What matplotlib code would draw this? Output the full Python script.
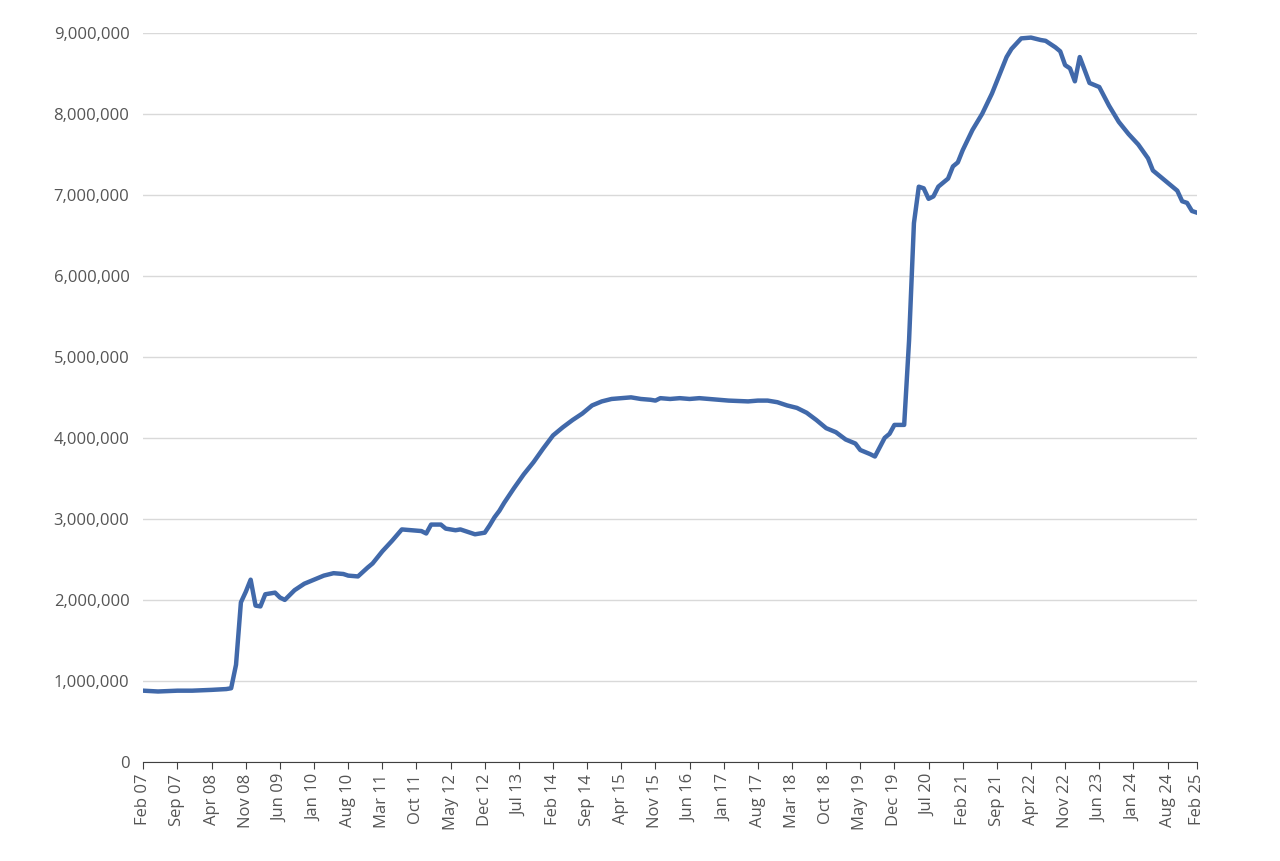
import numpy as np
import pandas as pd
import matplotlib.pyplot as plt
from matplotlib.ticker import FuncFormatter

plt.rcParams["font.family"] = ["Open Sans", "DejaVu Sans"]

# months since Feb 2007, values in millions
months = [0, 3, 7, 10, 14, 17, 18, 19, 20, 21, 22, 23, 24, 25, 27, 28, 29, 31, 33, 35,
          37, 39, 41, 42, 44, 46, 47, 49, 51, 53, 55, 57, 58, 59, 61, 62, 64, 65, 67, 68,
          70, 71, 72, 73, 74, 76, 78, 80, 82, 84, 86, 88, 90, 92, 94, 96, 98, 100, 102, 104,
          105, 106, 108, 110, 112, 114, 116, 118, 120, 124, 126, 128, 130, 132, 134, 136, 138, 140, 142, 144,
          146, 147, 149, 150, 152, 153, 154, 156, 157, 158, 159, 160, 161, 162, 163, 165, 166, 167, 168, 170,
          172, 174, 175, 176, 177, 178, 180, 182, 184, 185, 187, 188, 189, 190, 191, 192, 194, 196, 198, 200,
          202, 204, 206, 207, 209, 211, 212, 213, 214, 215, 216]
values = [0.88, 0.87, 0.88, 0.88, 0.89, 0.90, 0.91, 1.20, 1.97, 2.10, 2.25, 1.93, 1.92, 2.07, 2.09, 2.03, 2.00, 2.12, 2.20, 2.25,
          2.30, 2.33, 2.32, 2.30, 2.29, 2.40, 2.45, 2.60, 2.73, 2.87, 2.86, 2.85, 2.82, 2.93, 2.93, 2.88, 2.86, 2.87, 2.83, 2.81,
          2.83, 2.92, 3.02, 3.10, 3.20, 3.38, 3.55, 3.70, 3.87, 4.03, 4.13, 4.22, 4.30, 4.40, 4.45, 4.48, 4.49, 4.50, 4.48, 4.47,
          4.46, 4.49, 4.48, 4.49, 4.48, 4.49, 4.48, 4.47, 4.46, 4.45, 4.46, 4.46, 4.44, 4.40, 4.37, 4.31, 4.22, 4.12, 4.07, 3.98,
          3.93, 3.85, 3.80, 3.77, 4.00, 4.05, 4.16, 4.16, 5.20, 6.65, 7.10, 7.08, 6.95, 6.98, 7.10, 7.20, 7.35, 7.40, 7.55, 7.80,
          8.00, 8.25, 8.40, 8.55, 8.70, 8.80, 8.93, 8.94, 8.91, 8.90, 8.82, 8.77, 8.60, 8.56, 8.40, 8.70, 8.38, 8.33, 8.10, 7.90,
          7.75, 7.62, 7.45, 7.30, 7.20, 7.10, 7.05, 6.92, 6.90, 6.80, 6.78]

dates = pd.date_range("2007-02-01", periods=217, freq="MS")
tick_idx = list(range(0, 211, 7)) + [216]
tick_labels = [dates[i].strftime("%b %y") for i in tick_idx]

fig, ax = plt.subplots(figsize=(12.8, 8.61), dpi=100)
fig.subplots_adjust(left=0.112, right=0.935, top=0.962, bottom=0.115)

ax.plot(months, np.array(values) * 1e6, color="#4169aa", lw=3.2, solid_joinstyle="round")
ax.set_xlim(0, 216)
ax.set_ylim(0, 9e6)
ax.set_yticks(np.arange(0, 9.01e6, 1e6))
ax.yaxis.set_major_formatter(FuncFormatter(lambda v, p: f"{int(v):,}"))
ax.set_xticks(tick_idx)
ax.set_xticklabels(tick_labels, rotation=90)
ax.grid(axis="y", color="#d9d9d9", lw=1)
ax.set_axisbelow(True)
for s in ["top", "right", "left"]:
    ax.spines[s].set_visible(False)
ax.spines["bottom"].set_color("#404040")
ax.tick_params(axis="y", length=0, labelsize=12, colors="#555555", pad=10)
ax.tick_params(axis="x", length=5, labelsize=12, colors="#555555", color="#404040")

fig.savefig("out.png", dpi=100)
